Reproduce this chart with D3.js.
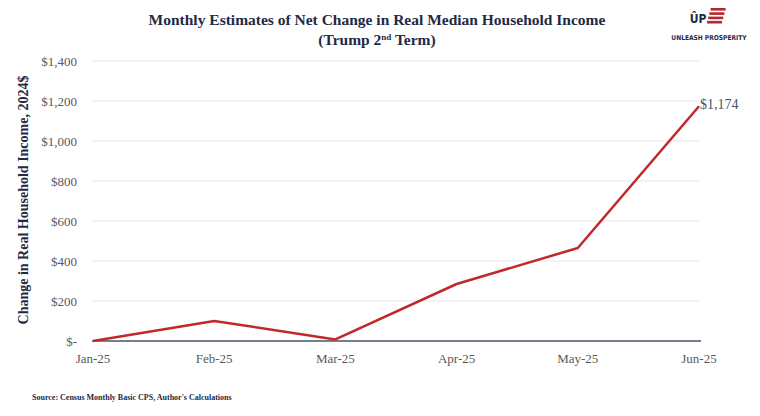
<!DOCTYPE html>
<html><head><meta charset="utf-8">
<script src="https://cdn.jsdelivr.net/npm/d3@7"></script>
<style>body{margin:0;background:#fff}svg{display:block}</style>
</head><body><svg id="c" width="760" height="416"></svg>
<script>
const months = ["Jan-25","Feb-25","Mar-25","Apr-25","May-25","Jun-25"];
const values = [0, 100, 8, 285, 465, 1174];
const yTicks = [0, 200, 400, 600, 800, 1000, 1200, 1400];
const lastLabel = "$1,174";

const svg = d3.select("#c");
const serif = "'Liberation Serif','DejaVu Serif',serif";
const x = d3.scalePoint().domain(months).range([93, 699]);
const y = d3.scaleLinear().domain([0, 1400]).range([341, 61]);

// gridlines
svg.append("g").selectAll("line").data(yTicks.filter(d => d > 0)).join("line")
  .attr("x1", 92).attr("x2", 699).attr("y1", d => y(d)).attr("y2", d => y(d))
  .attr("stroke", "#e6e6e6").attr("stroke-width", 1);

// y tick labels
const fmt = d => d === 0 ? "$-" : "$" + d3.format(",")(d);
svg.append("g").selectAll("text").data(yTicks).join("text")
  .attr("x", 77).attr("y", d => y(d)).attr("dy", "0.35em")
  .attr("text-anchor", "end").attr("font-family", serif).attr("font-size", 13)
  .attr("fill", "#595959").text(fmt);

// baseline
svg.append("line").attr("x1", 92).attr("x2", 701).attr("y1", y(0)).attr("y2", y(0))
  .attr("stroke", "#44546a").attr("stroke-width", 1.5);

// x labels
svg.append("g").selectAll("text").data(months).join("text")
  .attr("x", d => x(d)).attr("y", 358).attr("dy", "0.35em")
  .attr("text-anchor", "middle").attr("font-family", serif).attr("font-size", 13)
  .attr("fill", "#595959").text(d => d);

// line
svg.append("path").datum(values)
  .attr("d", d3.line().x((d, i) => x(months[i])).y(d => y(d)))
  .attr("fill", "none").attr("stroke", "#c0282a").attr("stroke-width", 2.5)
  .attr("stroke-linejoin", "round");

// data label
svg.append("text").attr("x", x(months[5]) + 1).attr("y", y(values[5]) - 2).attr("dy", "0.35em")
  .attr("font-family", serif).attr("font-size", 14).attr("fill", "#44546a").text(lastLabel);

// y-axis title
svg.append("text").attr("transform", "translate(28,200) rotate(-90)")
  .attr("text-anchor", "middle").attr("font-family", serif).attr("font-size", 14)
  .attr("font-weight", "bold").attr("fill", "#1f2a44")
  .text("Change in Real Household Income, 2024$");

// title
svg.append("text").attr("x", 377).attr("y", 25).attr("text-anchor", "middle")
  .attr("font-family", serif).attr("font-size", 15.5).attr("font-weight", "bold")
  .attr("fill", "#1f2a44").text("Monthly Estimates of Net Change in Real Median Household Income");
const t2 = svg.append("text").attr("x", 377).attr("y", 45).attr("text-anchor", "middle")
  .attr("font-family", serif).attr("font-size", 15.5).attr("font-weight", "bold").attr("fill", "#1f2a44");
t2.append("tspan").text("(Trump 2");
t2.append("tspan").attr("font-size", 9).attr("dy", -5).text("nd");
t2.append("tspan").attr("dy", 5).text(" Term)");

// source
svg.append("text").attr("x", 32).attr("y", 400)
  .attr("font-family", serif).attr("font-size", 8).attr("font-weight", "bold")
  .attr("fill", "#1f2a44").text("Source: Census Monthly Basic CPS, Author's Calculations");

// logo
const logo = svg.append("g");
logo.append("text").attr("x", 698).attr("y", 23).attr("text-anchor", "middle")
  .attr("font-family", "'DejaVu Sans Condensed','Liberation Sans Narrow',sans-serif")
  .attr("font-size", 12).attr("font-weight", "bold").attr("fill", "#1f2a44").text("ÛP");
[0,1,2,3].forEach(i => {
  logo.append("rect").attr("x", 707 + (3 - i) * 1.2).attr("y", 8 + i * 4.3).attr("width", 15).attr("height", 2.6)
    .attr("fill", "#b22a2e");
});
logo.append("text").attr("x", 709).attr("y", 40).attr("text-anchor", "middle")
  .attr("font-family", "'Liberation Sans Narrow','DejaVu Sans Condensed',sans-serif")
  .attr("font-size", 6.6).attr("font-weight", "bold").attr("fill", "#1f2a44")
  .text("UNLEASH PROSPERITY");
</script></body></html>
